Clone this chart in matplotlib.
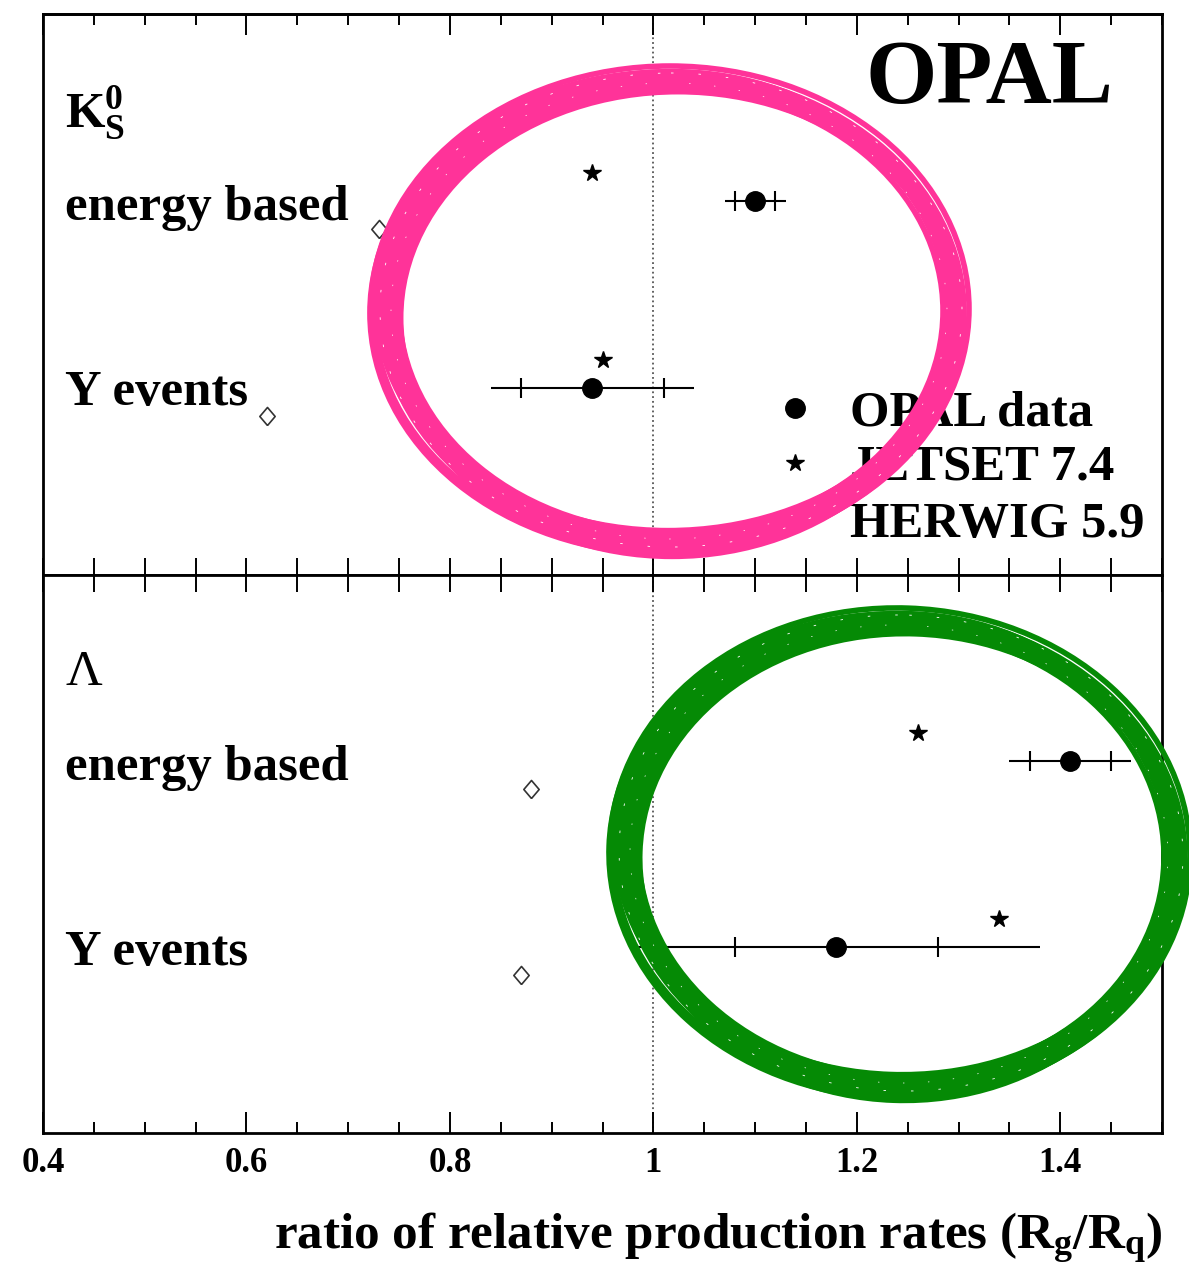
import numpy as np
import matplotlib.pyplot as plt
from matplotlib.patches import Ellipse
from matplotlib.ticker import MultipleLocator

# values
rows = ['energy based', 'Y events']
k0_data = [1.10, 0.94]
k0_stat = [0.02, 0.07]
k0_tot = [0.03, 0.10]
k0_jetset = [0.94, 0.95]
k0_herwig = [0.73, 0.62]

lam_data = [1.41, 1.18]
lam_stat = [0.04, 0.10]
lam_tot = [0.06, 0.20]
lam_jetset = [1.26, 1.34]
lam_herwig = [0.88, 0.87]

tick_vals = [0.4, 0.6, 0.8, 1.0, 1.2, 1.4]
tick_labels = ['0.4', '0.6', '0.8', '1', '1.2', '1.4']
legend_names = ['OPAL data', 'JETSET 7.4', 'HERWIG 5.9']

plt.rcParams['font.family'] = 'Liberation Serif'
plt.rcParams['font.weight'] = 'bold'
plt.rcParams['axes.labelweight'] = 'bold'
plt.rcParams['mathtext.fontset'] = 'custom'
plt.rcParams['mathtext.rm'] = 'Liberation Serif:bold'
plt.rcParams['mathtext.bf'] = 'Liberation Serif:bold'
plt.rcParams['mathtext.it'] = 'Liberation Serif:bold'

W, H = 1189, 1279
fig = plt.figure(figsize=(W / 100, H / 100), dpi=100)


def px(x, y):
    return x / W, 1 - y / H


left, right = 43 / W, 1162 / W
ax1 = fig.add_axes([left, 1 - 575 / H, right - left, (575 - 14) / H])
ax2 = fig.add_axes([left, 1 - 1133 / H, right - left, (1133 - 575) / H])

diamond = [(0, -1), (0.85, 0), (0, 1), (-0.85, 0), (0, -1)]


def draw(ax, data, stat, tot, jetset, herwig):
    y = np.arange(1, len(data) + 1)
    data = np.array(data)
    ax.errorbar(data, y, xerr=tot, fmt='o', color='black', ms=14,
                elinewidth=1.5, capsize=0, zorder=3)
    ax.plot(data - np.array(stat), y, '|', color='black', ms=15, mew=1.5)
    ax.plot(data + np.array(stat), y, '|', color='black', ms=15, mew=1.5)
    ax.plot(jetset, y - 0.15, '*', color='black', ms=13)
    ax.plot(herwig, y + 0.15, marker=diamond, ls='none', mfc='white',
            mec='#333333', ms=13, mew=1.2)
    ax.axvline(1, color='#555555', ls=':', lw=1.3, zorder=0)
    ax.set_xlim(0.4, 1.5)
    ax.set_ylim(3, 0)
    ax.set_yticks([])
    for sp in ax.spines.values():
        sp.set_linewidth(2)


draw(ax1, k0_data, k0_stat, k0_tot, k0_jetset, k0_herwig)
draw(ax2, lam_data, lam_stat, lam_tot, lam_jetset, lam_herwig)

# ticks in the middle (crossing) line
ax1.xaxis.set_major_locator(MultipleLocator(0.05))
ax1.tick_params(axis='x', direction='in', length=12, width=1.4, labelbottom=False)
sec1 = ax1.secondary_xaxis('top')
sec1.xaxis.set_major_locator(MultipleLocator(0.2))
sec1.xaxis.set_minor_locator(MultipleLocator(0.05))
sec1.tick_params(which='major', direction='in', length=15, width=1.4, labeltop=False)
sec1.tick_params(which='minor', direction='in', length=8, width=1.4)
sec1.spines['top'].set_linewidth(2)

ax2.set_xticks(tick_vals, tick_labels)
ax2.xaxis.set_minor_locator(MultipleLocator(0.05))
ax2.tick_params(axis='x', which='major', direction='in', length=15, width=1.4,
                labelsize=25, pad=10)
ax2.tick_params(axis='x', which='minor', direction='in', length=8, width=1.4)
sec2 = ax2.secondary_xaxis('top')
sec2.xaxis.set_major_locator(MultipleLocator(0.05))
sec2.tick_params(direction='in', length=12, width=1.4, labeltop=False)
ax2.set_xlabel(r'ratio of relative production rates (R$_\mathbf{g}$/R$_\mathbf{q}$)',
               fontsize=36.8, fontweight='bold', loc='right', labelpad=22)

# panel labels
fs = 36.5
fig.text(*px(65, 128), r'K$^\mathbf{0}_\mathbf{S}$', fontsize=fs, va='baseline')
fig.text(*px(65, 220), rows[0], fontsize=fs, va='baseline')
fig.text(*px(65, 405), rows[1], fontsize=fs, va='baseline')
fig.text(*px(66, 685), 'Λ', fontsize=fs, fontweight='normal', va='baseline')
fig.text(*px(65, 780), rows[0], fontsize=fs, va='baseline')
fig.text(*px(65, 965), rows[1], fontsize=fs, va='baseline')
fig.text(*px(866, 103), 'OPAL', fontsize=66, va='baseline')

# legend
leg_y = [408, 463, 520]
fig.text(*px(850, 425), legend_names[0], fontsize=fs, va='baseline')
fig.text(*px(850, 480), legend_names[1], fontsize=fs, va='baseline')
fig.text(*px(850, 537), legend_names[2], fontsize=fs, va='baseline')
ov = fig.add_axes([0, 0, 1, 1], zorder=10)
ov.set_xlim(0, W)
ov.set_ylim(H, 0)
ov.axis('off')
ov.plot(795, leg_y[0], 'o', color='black', ms=14, zorder=1)
ov.plot(795, leg_y[1], '*', color='black', ms=13, zorder=1)
ov.plot(795, leg_y[2], marker=diamond, mfc='white', mec='#333333', ms=13,
        mew=1.2, zorder=1)

# hand drawn rings, on top of everything
strokes = [(0, 0, 0, 0, 10), (3, -2, -18, -12, 7), (-3, 3, 20, 12, 7),
           (2, 4, -8, 16, 6), (-2, -4, 10, -14, 6), (1, 1, -26, -20, 4),
           (0, -1, 28, 20, 4), (6, 6, -4, -2, 8), (8, 8, -14, -12, 5)]
rings = [(670, 310, 570, 466, 0, '#ff3399'),
         (900, 853, 552, 468, 2, '#058a05')]
for (cx, cy, w, h, ang, col) in rings:
    for dx, dy, dw, dh, lw in strokes:
        ov.add_patch(Ellipse((cx + dx, cy + dy), w + dw, h + dh, angle=ang,
                             fill=False, ec=col, lw=lw, zorder=5))
    ov.add_patch(Ellipse((cx + 1, cy), w + 12, h + 8, angle=ang, fill=False,
                         ec='white', lw=0.6, ls=(0, (3, 30)), zorder=6))
    ov.add_patch(Ellipse((cx - 1, cy + 1), w - 14, h - 10, angle=ang, fill=False,
                         ec='white', lw=0.5, ls=(7, (2, 34)), zorder=6))

fig.savefig('out.png', dpi=100)
